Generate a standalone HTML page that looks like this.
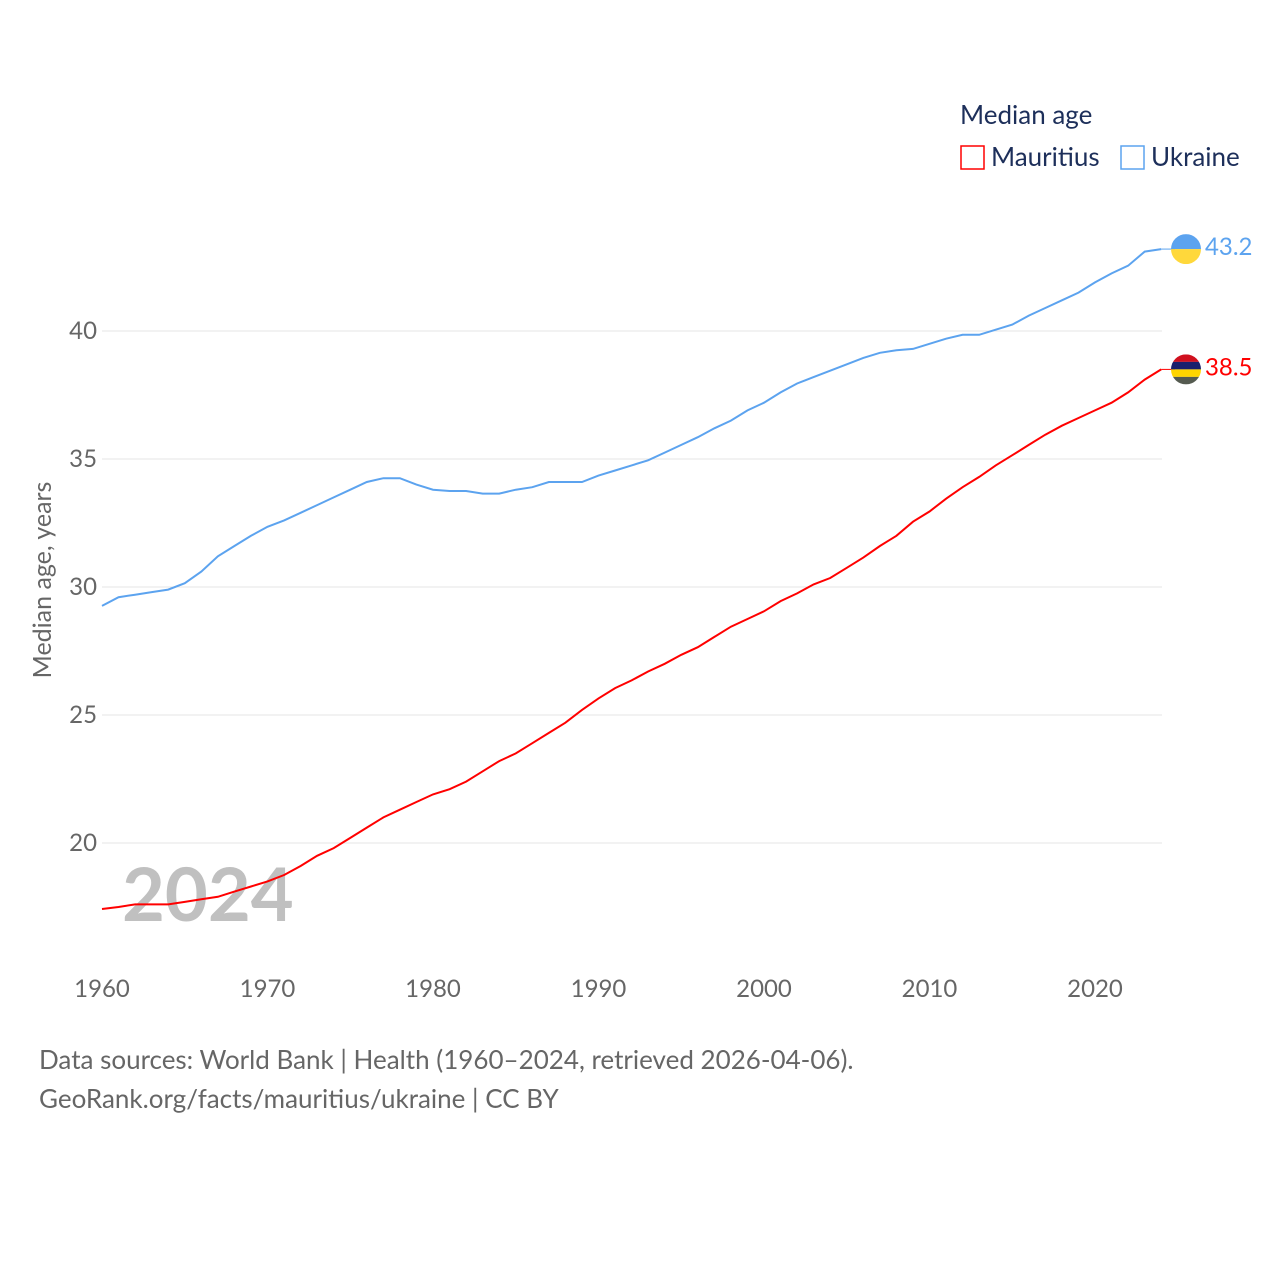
<!DOCTYPE html>
<html><head><meta charset="utf-8">
<style>
body{margin:0;background:#fff;width:1280px;height:1280px;overflow:hidden;font-family:"Liberation Sans",sans-serif}
svg text{font-family:"Lato","Liberation Sans",sans-serif}
</style></head>
<body>
<svg id="chart" width="1280" height="1280" xmlns="http://www.w3.org/2000/svg">
<g id="grid"></g>
<g id="yticks"></g>
<g id="xticks"></g>
<text x="122" y="921" font-size="74" font-weight="bold" fill="#c0c0c0">2024</text>
<text transform="translate(51,580) rotate(-90)" text-anchor="middle" font-size="25" fill="#666">Median age, years</text>
<g id="series"></g>
<text x="960" y="124" font-size="26" fill="#1d2f5a">Median age</text>
<rect x="961" y="146" width="23" height="23" fill="none" stroke="#f00" stroke-width="1.5"/>
<text x="991" y="166" font-size="26" fill="#1d2f5a">Mauritius</text>
<rect x="1121" y="146" width="23" height="23" fill="none" stroke="#5ca3ef" stroke-width="1.5"/>
<text x="1151" y="166" font-size="26" fill="#1d2f5a">Ukraine</text>
<text x="39" y="1069" font-size="26" fill="#666">Data sources: World Bank | Health (1960–2024, retrieved 2026-04-06).</text>
<text x="39" y="1108" font-size="26" fill="#666">GeoRank.org/facts/mauritius/ukraine | CC BY</text>
</svg>
<script>
const years=[];for(let y=1960;y<=2024;y++)years.push(y);
const ukraine=[29.26,29.6,29.7,29.8,29.9,30.15,30.6,31.2,31.6,32.0,32.35,32.6,32.9,33.2,33.5,33.8,34.1,34.25,34.25,34.0,33.8,33.75,33.75,33.65,33.65,33.8,33.9,34.1,34.1,34.1,34.35,34.55,34.75,34.95,35.25,35.55,35.85,36.2,36.5,36.9,37.2,37.6,37.95,38.2,38.45,38.7,38.95,39.15,39.25,39.3,39.5,39.7,39.85,39.85,40.05,40.25,40.6,40.9,41.2,41.5,41.9,42.25,42.55,43.1,43.2];
const mauritius=[17.42,17.5,17.6,17.6,17.6,17.7,17.8,17.9,18.1,18.3,18.5,18.75,19.1,19.5,19.8,20.2,20.6,21.0,21.3,21.6,21.9,22.1,22.4,22.8,23.2,23.5,23.9,24.3,24.7,25.2,25.65,26.05,26.35,26.7,27.0,27.35,27.65,28.05,28.45,28.75,29.05,29.45,29.75,30.1,30.35,30.75,31.15,31.6,32.0,32.55,32.95,33.45,33.9,34.3,34.75,35.15,35.55,35.95,36.3,36.6,36.9,37.2,37.6,38.1,38.5];
const yTicks=[20,25,30,35,40];
const xTicks=[1960,1970,1980,1990,2000,2010,2020];
const NS="http://www.w3.org/2000/svg";
const X=v=>102+(v-1960)*16.55;
const Y=v=>331+(40-v)*25.6;
function mk(tag,attrs,parent,txt){const e=document.createElementNS(NS,tag);for(const k in attrs)e.setAttribute(k,attrs[k]);if(txt!==undefined)e.textContent=txt;document.getElementById(parent).appendChild(e);return e;}
yTicks.forEach(t=>{
 const l=mk('line',{x1:102,x2:1162,y1:Y(t),y2:Y(t),stroke:'#e6e6e6','stroke-width':1},'grid');
 
 
 const tx=mk('text',{x:97,y:Y(t)+8,'text-anchor':'end','font-size':24,fill:'#666'},'yticks',String(t));
 
 
});
xTicks.forEach(t=>{
 const tx=mk('text',{x:X(t),y:997,'text-anchor':'middle','font-size':24,fill:'#666'},'xticks',String(t));
 
 
});
function line(data,color,name){
 const d=data.map((v,i)=>(i?'L':'M')+X(years[i]).toFixed(1)+','+Y(v).toFixed(1)).join(' ');
 const p=mk('path',{d:d,fill:'none',stroke:color,'stroke-width':2},'series');
 
 
 const lv=data[data.length-1];
 const c=mk('line',{x1:X(2024),x2:1175,y1:Y(lv),y2:Y(lv),stroke:color,'stroke-width':1},'series');
 
 
 const t=mk('text',{x:1205,y:Y(lv)+6,'font-size':24,fill:color},'series',lv.toFixed(1));
 
 
 return Y(lv);
}
const yu=line(ukraine,'#5ca3ef','ukraine');
const ym=line(mauritius,'#f00','mauritius');
function flag(cy,colors,name){
 const g=mk('g',{},'series');
 
 
 const cid='clip-'+name;
 const cp=document.createElementNS(NS,'clipPath');cp.setAttribute('id',cid);
 const cc=document.createElementNS(NS,'circle');cc.setAttribute('cx',1186);cc.setAttribute('cy',cy);cc.setAttribute('r',15);cp.appendChild(cc);g.appendChild(cp);
 const h=30/colors.length;
 colors.forEach((col,i)=>{const r=document.createElementNS(NS,'rect');r.setAttribute('x',1171);r.setAttribute('y',cy-15+i*h);r.setAttribute('width',30);r.setAttribute('height',h);r.setAttribute('fill',col);r.setAttribute('clip-path','url(#'+cid+')');g.appendChild(r);});
}
flag(yu,['#5ca3ef','#ffd83b'],'ukraine');
flag(ym,['#d0101e','#1a206d','#ffd500','#555b50'],'mauritius');
</script>
</body></html>
